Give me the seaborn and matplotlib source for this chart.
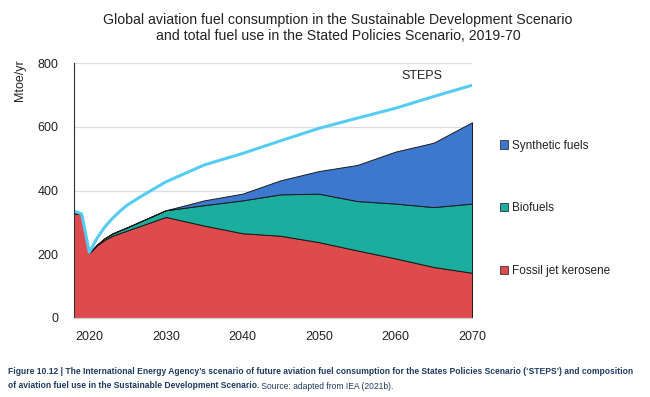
import numpy as np
import matplotlib
matplotlib.use("Agg")
import matplotlib.pyplot as plt
from matplotlib.patches import Patch
import seaborn as sns
import pandas as pd

# SDS composition (Mtoe/yr)
years = [2018, 2019, 2020, 2021, 2022, 2023, 2025, 2030, 2035, 2040, 2045, 2050, 2055, 2060, 2065, 2070]
fossil = [329, 325, 204, 228, 245, 258, 275, 317, 290, 266, 258, 238, 212, 187, 160, 142]
biofuels = [0, 0, 0, 2, 5, 7, 10, 21, 64, 103, 130, 152, 155, 172, 188, 217]
synthetic = [0, 0, 0, 0, 0, 0, 0, 0, 15, 21, 44, 71, 113, 163, 202, 255]

# STEPS total fuel use
steps_years = [2018, 2019, 2020, 2021, 2022, 2023, 2024, 2025, 2027, 2030, 2035, 2040, 2045, 2050, 2055, 2060, 2065, 2070]
steps_total = [335, 327, 206, 250, 285, 312, 335, 355, 385, 427, 480, 516, 556, 595, 627, 658, 695, 730]

series_names = ["Fossil jet kerosene", "Biofuels", "Synthetic fuels"]
colors = ["#DF4A4D", "#1BAE9E", "#3D78CF"]
steps_color = "#55CCF2"

sns.set_theme(style="white")
plt.rcParams["font.family"] = ["Liberation Sans", "DejaVu Sans"]

fig = plt.figure(figsize=(6.5, 3.97), dpi=100)
ax = fig.add_axes([74 / 650, 1 - 318 / 397, (472 - 74) / 650, (318 - 63) / 397])

ax.stackplot(years, fossil, biofuels, synthetic, colors=colors,
             edgecolor="#1a1a1a", linewidth=0.7)

steps_df = pd.DataFrame({"year": steps_years, "total": steps_total})
sns.lineplot(data=steps_df, x="year", y="total", ax=ax, color=steps_color,
             linewidth=2.2)
ax.text(2063.5, 760, "STEPS", ha="center", va="center", fontsize=9, color="#222222")

ax.set_xlim(2018, 2070)
ax.set_ylim(0, 800)
ax.set_yticks([0, 200, 400, 600, 800])
ax.set_xticks([2020, 2030, 2040, 2050, 2060, 2070])
ax.yaxis.grid(True, color="#dddddd", linewidth=0.9)
ax.set_axisbelow(True)
ax.tick_params(axis="y", length=0, pad=11, labelsize=9, labelcolor="#222222")
ax.tick_params(axis="x", length=0, pad=9, labelsize=9, labelcolor="#222222")
ax.set_xlabel("")
ax.set_ylabel("")
for s in ["top", "right"]:
    ax.spines[s].set_visible(False)
ax.spines["left"].set_color("#333333")
ax.spines["left"].set_linewidth(0.8)
ax.spines["bottom"].set_color("#cccccc")
ax.spines["bottom"].set_linewidth(0.9)

fig.text(20 / 650, 1 - 80 / 397, "Mtoe/yr", rotation=90, ha="center", va="center",
         fontsize=9, color="#222222")

fig.text(338 / 650, 1 - 28 / 397,
         "Global aviation fuel consumption in the Sustainable Development Scenario\n"
         "and total fuel use in the Stated Policies Scenario, 2019-70",
         ha="center", va="center", fontsize=10.2, color="#222222", linespacing=1.2)

handles = [Patch(facecolor=c, edgecolor="#333333", linewidth=0.6) for c in colors]
leg = fig.legend(handles[::-1], series_names[::-1], loc="upper left",
                 bbox_to_anchor=(495 / 650, 1 - 135 / 397), frameon=False,
                 fontsize=8.5, labelspacing=4.3, handlelength=0.7, handleheight=0.7,
                 handletextpad=0.3, borderaxespad=0)
for t in leg.get_texts():
    t.set_color("#222222")

cap_color = "#1f3a60"
cap_font = ["Liberation Sans", "DejaVu Sans"]
cap_size = 6.15
fig.text(8 / 650, 1 - 372 / 397,
         "Figure 10.12 | The International Energy Agency\u2019s scenario of future aviation fuel "
         "consumption for the States Policies Scenario (\u2018STEPS\u2019) and composition",
         ha="left", va="center", fontsize=cap_size, fontweight="bold", color=cap_color,
         family=cap_font)
t2 = fig.text(8 / 650, 1 - 386 / 397,
              "of aviation fuel use in the Sustainable Development Scenario.",
              ha="left", va="center", fontsize=cap_size, fontweight="bold", color=cap_color,
              family=cap_font)
src = fig.text(0, 0, " Source: adapted from IEA (2021b).", ha="left", va="baseline",
               fontsize=cap_size, color=cap_color, family=cap_font)
# place the source text right after the bold sentence
fig.canvas.draw()
bb = t2.get_window_extent()
src.set_transform(matplotlib.transforms.IdentityTransform())
src.set_position((bb.x1, bb.y0 + bb.height * 0.22))

fig.savefig("out.png", dpi=100)
